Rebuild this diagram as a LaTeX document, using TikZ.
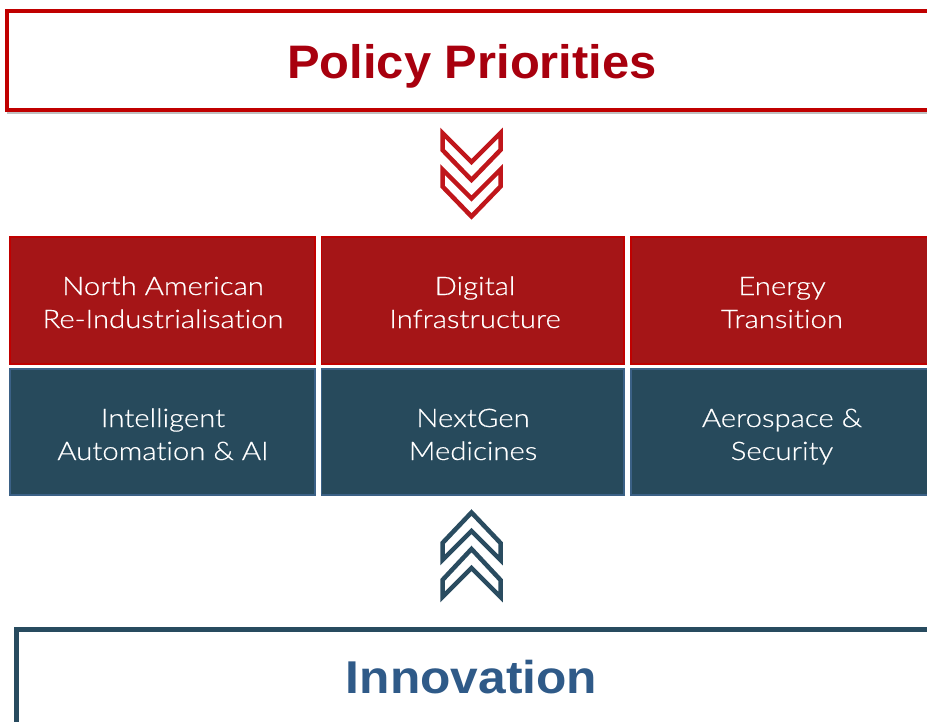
\documentclass[tikz,border=0pt]{standalone}
\usepackage{fontspec}
\usetikzlibrary{shadows}
\IfFontExistsTF{Lato Light}{\newfontfamily\boxfont{Lato Light}[Ligatures={NoCommon,NoRare}, FakeStretch=1.15, FakeBold=0.5]}{\newfontfamily\boxfont{Liberation Sans}[FakeStretch=1.05]}
\newfontfamily\headfont{Liberation Sans}[FakeStretch=1.04]
\newfontfamily\innofont{Liberation Sans}[FakeStretch=1.08]
\definecolor{redfill}{HTML}{A51517}
\definecolor{redline}{HTML}{C00000}
\definecolor{bluefill}{HTML}{274A5C}
\definecolor{blueline}{HTML}{3B6186}
\definecolor{titlered}{HTML}{A8000E}
\definecolor{innoblue}{HTML}{2F5A88}
\definecolor{innoline}{HTML}{284B5F}
\definecolor{chevred}{HTML}{C0161B}
\definecolor{chevblue}{HTML}{2A4C60}
\tikzset{
  tile/.style={rectangle, inner sep=0pt, line width=1.5pt},
  redtile/.style={tile, fill=redfill, draw=redline},
  bluetile/.style={tile, fill=bluefill, draw=blueline},
  tiletext/.style={anchor=base, inner sep=0pt, text=white, font=\boxfont\fontsize{25.5}{33}\selectfont},
  chevron/.style={line width=4.5pt, line join=miter, fill=white},
}
\begin{document}
\begin{tikzpicture}[x=1pt,y=-1pt]
\useasboundingbox (0,0) rectangle (927,722);
\clip (0,0) rectangle (927,722);
\fill[white] (0,0) rectangle (927,722);
% top box
\node[rectangle, minimum width=930pt, minimum height=99pt, draw=redline, line width=4pt, fill=white,
  drop shadow={shadow xshift=0pt, shadow yshift=-4pt, opacity=0.35, fill=black!70}] (top) at (472,61) {};
\node[anchor=base, text=titlered, font=\headfont\bfseries\fontsize{47}{47}\selectfont, inner sep=0pt] (toptext) at (472,79) {Policy Priorities};
% down chevrons
\draw[chevron, draw=chevred] (442.5,133) -- (471.5,162) -- (500.5,133) -- (500.5,150) -- (471.5,180) -- (442.5,150) -- cycle;
\draw[chevron, draw=chevred] (442.5,169.5) -- (471.5,198.5) -- (500.5,169.5) -- (500.5,186.5) -- (471.5,216.5) -- (442.5,186.5) -- cycle;
% tiles
\node[redtile, minimum width=305pt, minimum height=127pt] (r1) at (162.5,300.5) {};
\node[redtile, minimum width=302.5pt, minimum height=127pt] (r2) at (472.75,300.5) {};
\node[redtile, minimum width=302pt, minimum height=127pt] (r3) at (782,300.5) {};
\node[bluetile, minimum width=305pt, minimum height=126pt] (b1) at (162.5,432) {};
\node[bluetile, minimum width=302.5pt, minimum height=126pt] (b2) at (472.75,432) {};
\node[bluetile, minimum width=302pt, minimum height=126pt] (b3) at (782,432) {};
\node[tiletext] (r1a) at (163,295) {North American};
\node[tiletext] (r1b) at (163,328) {Re-Industrialisation};
\node[tiletext] (r2a) at (475,295) {Digital};
\node[tiletext] (r2b) at (475,328) {Infrastructure};
\node[tiletext] (r3a) at (782,295) {Energy};
\node[tiletext] (r3b) at (782,328) {Transition};
\node[tiletext] (b1a) at (163,427) {Intelligent};
\node[tiletext] (b1b) at (163,460) {Automation \& AI};
\node[tiletext] (b2a) at (473,427) {NextGen};
\node[tiletext] (b2b) at (473,460) {Medicines};
\node[tiletext] (b3a) at (782,427) {Aerospace \&};
\node[tiletext] (b3b) at (782,460) {Security};
% up chevrons
\draw[chevron, draw=chevblue] (471.5,512.5) -- (500.5,543) -- (500.5,560) -- (471.5,531) -- (442.5,560) -- (442.5,543) -- cycle;
\draw[chevron, draw=chevblue] (471.5,549) -- (500.5,580) -- (500.5,597) -- (471.5,568) -- (442.5,597) -- (442.5,580) -- cycle;
% bottom box
\node[rectangle, anchor=north west, minimum width=960pt, minimum height=140pt, draw=innoline, line width=5pt, fill=white] (bottom) at (13.5,627) {};
\node[anchor=base, text=innoblue, font=\innofont\bfseries\fontsize{46}{46}\selectfont, inner sep=0pt] (bottomtext) at (471.5,693) {Innovation};
\end{tikzpicture}
\end{document}
